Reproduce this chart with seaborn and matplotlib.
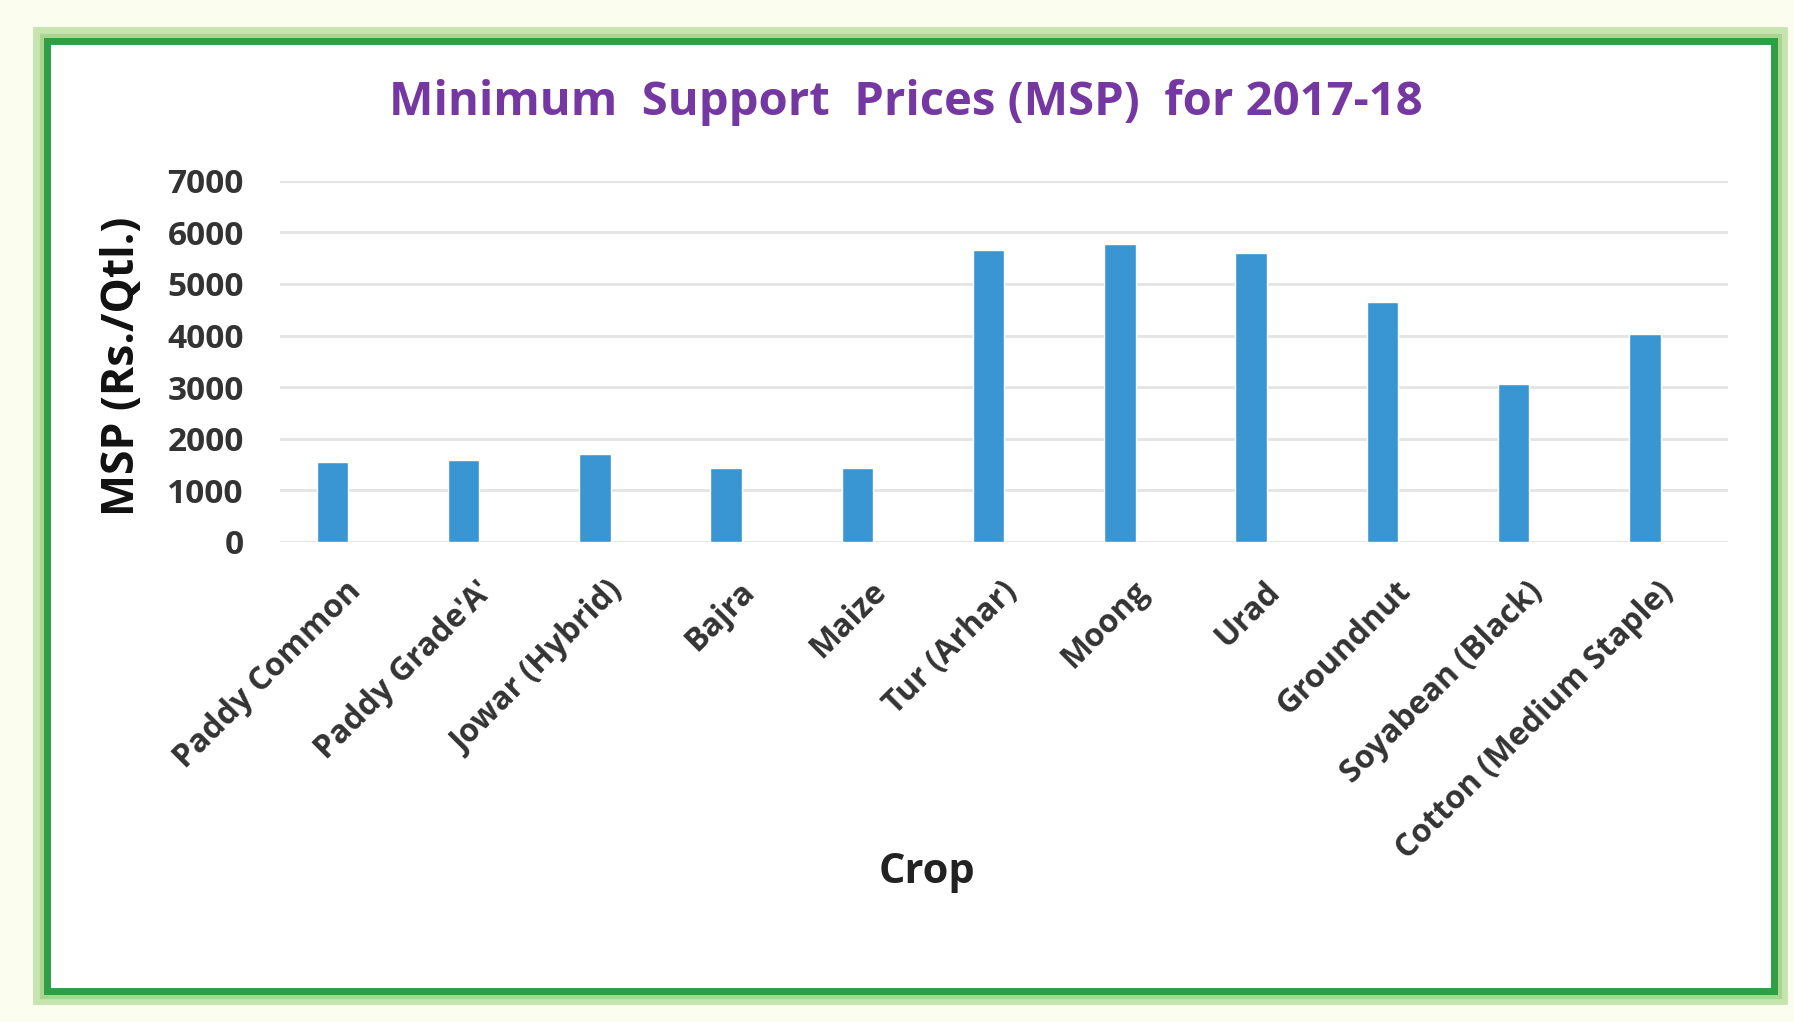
import numpy as np
import pandas as pd
import seaborn as sns
import matplotlib.pyplot as plt
import matplotlib.transforms as mtrans
from matplotlib.patches import Rectangle

# MSP values (Rs./Qtl.)
crops = ['Paddy Common', "Paddy Grade'A'", 'Jowar (Hybrid)', 'Bajra', 'Maize',
         'Tur (Arhar)', 'Moong', 'Urad', 'Groundnut', 'Soyabean (Black)',
         'Cotton (Medium Staple)']
msp = [1550, 1590, 1700, 1425, 1425, 5650, 5775, 5600, 4650, 3050, 4020]
yticks = [0, 1000, 2000, 3000, 4000, 5000, 6000, 7000]

df = pd.DataFrame({'Crop': crops, 'MSP': msp})

sns.set_style('white')
plt.rcParams['font.family'] = ['Open Sans', 'DejaVu Sans']

fig = plt.figure(figsize=(17.94, 10.22), dpi=100)
fig.patch.set_facecolor('#fbfdee')

# green frame around the chart
fig.patches.append(Rectangle((0.026, 0.03), 0.963, 0.93, transform=fig.transFigure,
                             facecolor='white', edgecolor='#c6e4ae', linewidth=20, zorder=-3))
fig.patches.append(Rectangle((0.026, 0.03), 0.963, 0.93, transform=fig.transFigure,
                             facecolor='white', edgecolor='#a8d68e', linewidth=11, zorder=-2))
fig.patches.append(Rectangle((0.026, 0.03), 0.963, 0.93, transform=fig.transFigure,
                             facecolor='white', edgecolor='#2f9e44', linewidth=5, zorder=-1))

ax = fig.add_axes([0.156, 0.47, 0.807, 0.353])
ax.set_facecolor('none')
ax.set_zorder(2)
sns.barplot(data=df, x='Crop', y='MSP', color='#3a96d3', saturation=1, width=0.24,
            ax=ax, zorder=3)

ax.set_ylim(0, 7000)
ax.set_xlim(-0.4, 10.63)
ax.set_yticks(yticks)
ax.set_yticklabels([str(v) for v in yticks], fontsize=24, fontweight='bold', color='#333333')
ax.set_xticks(range(len(crops)))
ax.set_xticklabels(crops, rotation=45, ha='right', rotation_mode='anchor',
                   fontsize=23, fontweight='bold', color='#333333')
ax.tick_params(axis='y', length=0, pad=26)
ax.tick_params(axis='x', length=0, pad=24)
shift = mtrans.ScaledTranslation(12 / 100, 0, fig.dpi_scale_trans)
for lab in ax.get_xticklabels():
    lab.set_transform(lab.get_transform() + shift)
ax.grid(axis='y', color='#e4e4e4', linewidth=2, zorder=0)
for s in ax.spines.values():
    s.set_visible(False)

ax.set_ylabel('MSP (Rs./Qtl.)', fontsize=32, fontweight='bold', color='#111111')
ax.yaxis.set_label_coords(-0.093, 0.486)
ax.set_xlabel('Crop', fontsize=30, fontweight='bold', color='#222222', labelpad=0)
ax.xaxis.set_label_coords(0.447, -0.86)

fig.text(0.505, 0.9, 'Minimum  Support  Prices (MSP)  for 2017-18', ha='center', va='center',
         fontsize=34, fontweight='bold', color='#7538a3')

fig.savefig('out.png', dpi=100, facecolor=fig.get_facecolor())
